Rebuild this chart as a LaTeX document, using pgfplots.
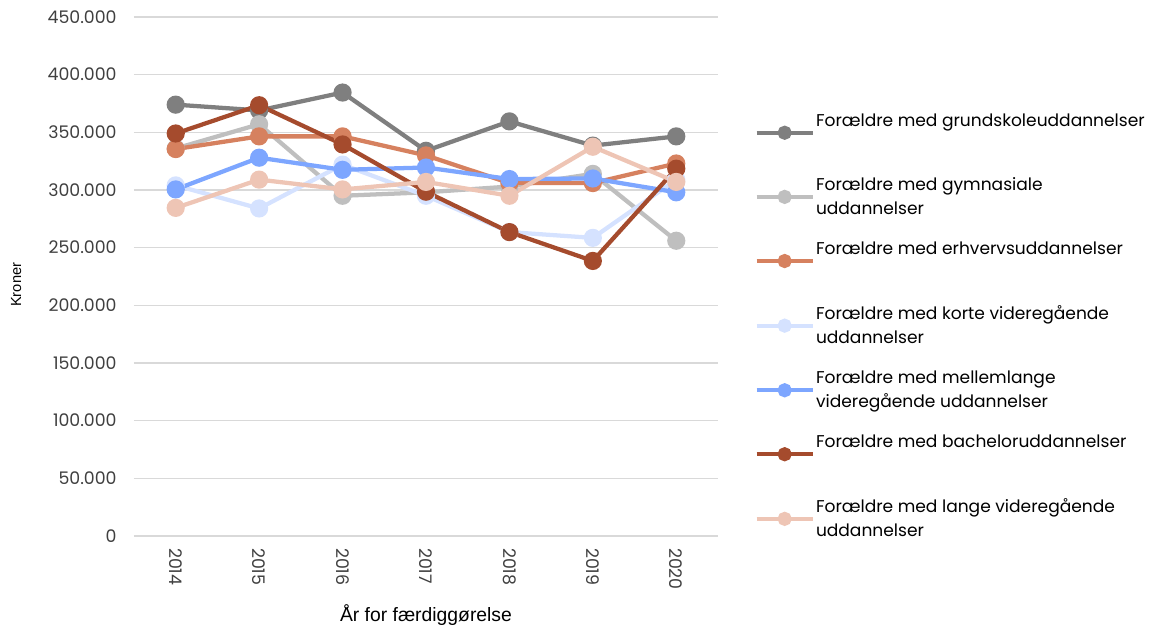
\documentclass[border=0pt]{standalone}
\usepackage{pgfplots}
\pgfplotsset{compat=1.18}
\usepackage{fontspec}
\setmainfont{Poppins}
\newfontfamily\arialfont{Liberation Sans}

\definecolor{cGrund}{HTML}{7F7F7F}
\definecolor{cGym}{HTML}{BFBFBF}
\definecolor{cErhv}{HTML}{D6815F}
\definecolor{cKort}{HTML}{D5E2FF}
\definecolor{cMell}{HTML}{7DA6FF}
\definecolor{cBach}{HTML}{A54B2D}
\definecolor{cLang}{HTML}{EEC5B5}
\definecolor{cGrid}{HTML}{D9D9D9}
\definecolor{cText}{HTML}{404040}

\begin{document}
\begin{tikzpicture}
\path[use as bounding box] (-100.5pt,-66.75pt) rectangle (764.25pt,402pt);
\begin{axis}[
    scale only axis,
    width=438pt, height=389.25pt,
    xmin=2013.5, xmax=2020.5,
    ymin=0, ymax=450000,
    xtick={2014,...,2020},
    ytick={0,50000,...,450000},
    scaled y ticks=false,
    xticklabel style={rotate=-90, anchor=west, xshift=5.5pt, font=\fontsize{13}{15}\selectfont, text=cText},
    xticklabel={\pgfmathprintnumber[1000 sep={},fixed,precision=0]{\tick}},
    yticklabel style={xshift=-9.5pt, font=\fontsize{13}{15}\selectfont, text=cText},
    /pgf/number format/.cd, fixed, precision=0, 1000 sep={.}, assume math mode=true,
    /pgfplots/.cd,
    axis line style={draw=none},
    major tick length=0pt,
    ymajorgrids,
    grid style={cGrid, line width=1.2pt},
    every axis y label/.style={at={(axis description cs:-0.202,0.484)}, rotate=90, anchor=center, font=\arialfont\fontsize{11}{12}\selectfont},
    ylabel={Kroner},
    every axis x label/.style={at={(axis description cs:0.5,0)}, anchor=center, yshift=-59.5pt, font=\arialfont\fontsize{14.5}{16}\selectfont},
    xlabel={År for færdiggørelse},
    every axis plot/.append style={line width=3.2pt, mark=*, mark size=5.2pt},
    legend style={at={(1.0555,0.825)}, anchor=north west, draw=none, fill=none,
        font=\fontsize{12.8}{18}\selectfont, nodes={align=left, inner xsep=1pt},
        row sep=15pt},
    legend cell align=left,
    legend image code/.code={\draw[#1, line width=3pt, mark size=3.8pt, mark repeat=2, mark phase=2] plot coordinates {(0pt,0pt) (21pt,0pt) (42pt,0pt)};},
]
\addplot[cGrund] coordinates {(2014,374000) (2015,369000) (2016,384500) (2017,334000) (2018,359500) (2019,338500) (2020,346500)};
\addlegendentry{Forældre med grundskoleuddannelser\\\strut}
\addplot[cGym] coordinates {(2014,336000) (2015,357000) (2016,295000) (2017,298000) (2018,303000) (2019,314000) (2020,256000)};
\addlegendentry{Forældre med gymnasiale\\uddannelser}
\addplot[cErhv] coordinates {(2014,335500) (2015,346500) (2016,346500) (2017,330000) (2018,306000) (2019,306000) (2020,323000)};
\addlegendentry{Forældre med erhvervsuddannelser\\\strut}
\addplot[cKort] coordinates {(2014,304000) (2015,284000) (2016,322000) (2017,295000) (2018,263500) (2019,258500) (2020,309000)};
\addlegendentry{Forældre med korte videregående\\uddannelser}
\addplot[cMell] coordinates {(2014,300500) (2015,328000) (2016,317500) (2017,319500) (2018,309500) (2019,310000) (2020,298000)};
\addlegendentry{Forældre med mellemlange\\videregående uddannelser}
\addplot[cBach] coordinates {(2014,349000) (2015,373500) (2016,339500) (2017,298500) (2018,263500) (2019,238500) (2020,318500)};
\addlegendentry{Forældre med bacheloruddannelser\\\strut}
\addplot[cLang] coordinates {(2014,284500) (2015,309000) (2016,300500) (2017,307000) (2018,295000) (2019,337500) (2020,307000)};
\addlegendentry{Forældre med lange videregående\\uddannelser}
\end{axis}
\end{tikzpicture}
\end{document}
